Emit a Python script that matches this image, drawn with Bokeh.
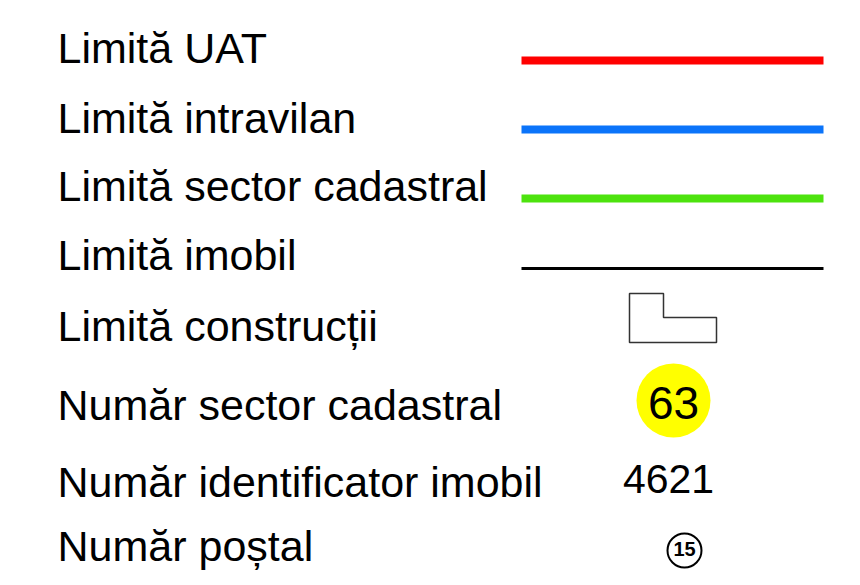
from bokeh.plotting import figure
from bokeh.models import Range1d
from bokeh.core.properties import value
from bokeh.embed import file_html
from bokeh.resources import INLINE

# ---- legend content ----
labels = ["Limită UAT", "Limită intravilan", "Limită sector cadastral",
          "Limită imobil", "Limită construcții", "Număr sector cadastral",
          "Număr identificator imobil", "Număr poștal"]
line_colors = ["#ff0000", "#0b74fa", "#4de30e", "#000000"]
line_widths = [8, 8, 8, 3]
sector_number = "63"
property_id = "4621"
postal_number = "15"

# ---- layout (picture pixel coordinates) ----
W, H = 852, 577
label_x = 57
label_baselines = [63, 133, 201, 270, 341, 420, 497, 561]
line_rows = [60, 129, 198, 268]
line_x0, line_x1 = 521, 823
# renderer draws alphabetic baseline ~0.37em lower than requested
def bl(y, fs):
    return y - 0.37 * fs

p = figure(width=W, height=H, x_range=Range1d(0, W), y_range=Range1d(H, 0),
           output_backend="svg", toolbar_location=None, min_border=0)
p.axis.visible = False
p.grid.visible = False
p.outline_line_color = None
p.background_fill_color = "white"
p.border_fill_color = "white"

font = value("Liberation Sans")

p.text(x=[label_x] * len(labels), y=[bl(y, 43) for y in label_baselines], text=labels,
       text_font=font, text_font_size="43px", text_color="black",
       text_baseline="alphabetic", text_align="left")

# line symbols
for y, c, w in zip(line_rows, line_colors, line_widths):
    p.segment(x0=[line_x0], y0=[y], x1=[line_x1], y1=[y], line_color=c, line_width=w)

# building outline symbol
p.patch(x=[629, 663, 663, 716, 716, 629], y=[293, 293, 317, 317, 342, 342],
        fill_color="white", line_color="#333333", line_width=1.5)

# sector number badge
p.circle(x=[673], y=[400], radius=37, fill_color="#ffff00", line_color=None)
p.text(x=[673], y=[bl(420, 46)], text=[sector_number], text_font=font, text_font_size="46px",
       text_color="black", text_align="center", text_baseline="alphabetic")

# property id
p.text(x=[668], y=[bl(494, 41)], text=[property_id], text_font=font, text_font_size="41px",
       text_color="black", text_align="center", text_baseline="alphabetic")

# postal number
p.circle(x=[684], y=[550], radius=17, fill_color="white", line_color="black", line_width=2)
p.text(x=[684], y=[bl(556, 20)], text=[postal_number], text_font=font, text_font_size="20px",
       text_font_style="bold", text_color="black", text_align="center",
       text_baseline="alphabetic")

open("out.html", "w").write(file_html(p, INLINE))
